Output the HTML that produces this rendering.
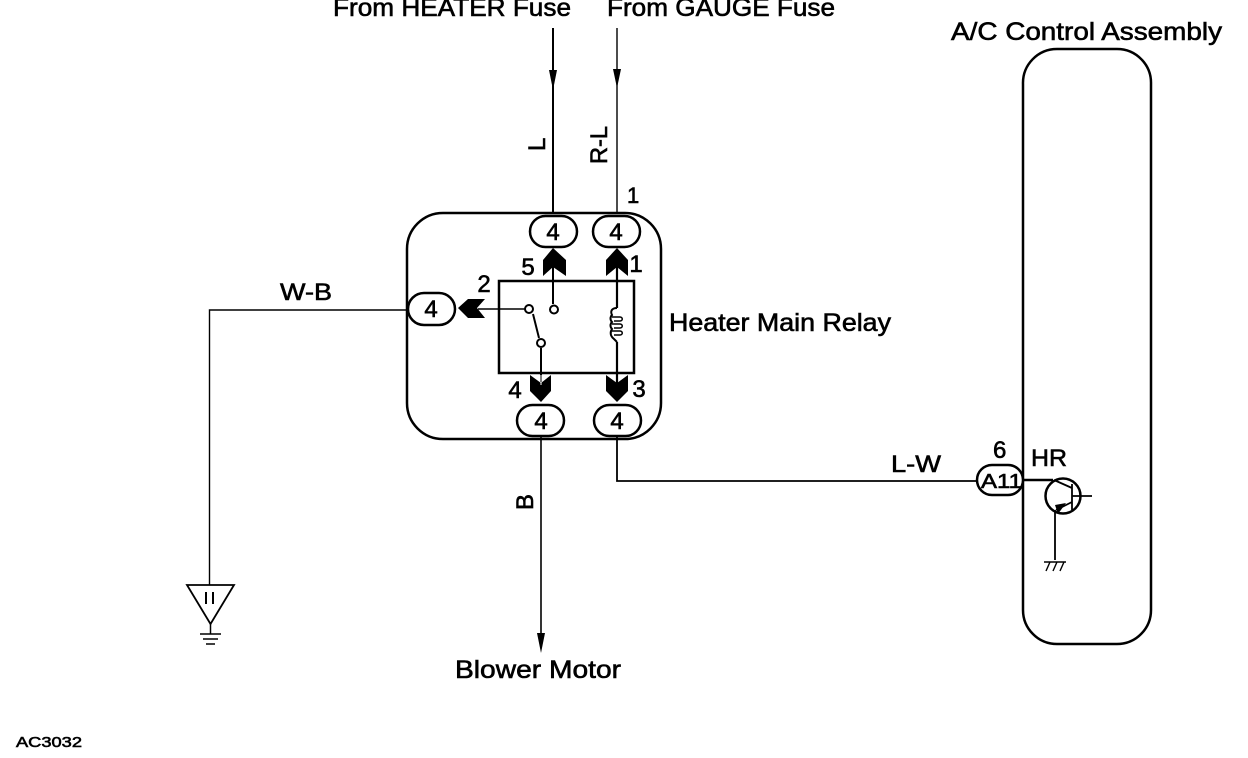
<!DOCTYPE html>
<html><head><meta charset="utf-8"><style>
html,body{margin:0;padding:0;background:#fff}
svg{display:block}
text{font-family:"Liberation Sans",sans-serif;fill:#000;stroke:#000;stroke-width:.6px}
</style></head><body>
<svg width="1248" height="758" viewBox="0 0 1248 758" xmlns="http://www.w3.org/2000/svg">
<g fill="none" stroke="#000" stroke-width="2">
<rect x="407" y="213" width="254" height="226" rx="36" ry="36" stroke-width="2.5"/>
<path d="M1023 84a34 34 0 0 1 34-35h60a34 34 0 0 1 34 35V610a34 34 0 0 1-34 34h-60a34 34 0 0 1-34-34Z" stroke-width="2.5"/>
<rect x="499" y="281" width="135" height="92" stroke-width="2.5"/>
<path d="M553 28V214" stroke-width="2"/>
<path d="M617 28V214" stroke-width="1.4"/>
<path d="M209.500 585V310H409" stroke-width="1.4"/>
<path d="M541 437V640" stroke-width="1.6"/>
<path d="M617 437V481H976" stroke-width="1.8"/>
<path d="M1023 480H1053" stroke-width="2.5"/>
<path d="M553 262V304" stroke-width="2"/>
<path d="M617 262V308M617 342V385" stroke-width="2.2"/>
<path d="M478 309H525" stroke-width="1.5"/>
<path d="M533 314L539 338" stroke-width="2"/>
<path d="M541 348V382" stroke-width="2"/>
<path d="M617 308c-5 0-7 3-5 7c-2 2-2 5 0 7c-2 2-2 5 0 7c-2 3-2 7 2 10l3 3" stroke-width="2"/>
<path d="M612 317h8c3 0 3 4 0 4h-6M612 324h8c3 0 3 4 0 4h-6M612 331h8c3 0 3 4 0 4h-6" stroke-width="1.500"/>
<circle cx="529" cy="309" r="4" fill="#fff"/>
<circle cx="554" cy="309.500" r="4" fill="#fff"/>
<circle cx="541" cy="343" r="4" fill="#fff"/>
<rect x="530" y="216" width="47" height="31" rx="15.500" fill="#fff" stroke-width="2.500"/>
<rect x="593" y="216" width="47" height="31" rx="15.500" fill="#fff" stroke-width="2.500"/>
<rect x="517" y="405" width="47" height="31" rx="15.500" fill="#fff" stroke-width="2.500"/>
<rect x="594" y="405" width="47" height="31" rx="15.500" fill="#fff" stroke-width="2.500"/>
<rect x="408" y="293" width="47" height="32" rx="16" fill="#fff" stroke-width="2.500"/>
<rect x="977" y="465" width="46" height="30" rx="15" fill="#fff" stroke-width="2.500"/>
<circle cx="1063" cy="496" r="17.500" stroke-width="2.500"/>
<path d="M1054 480L1072 488M1072 484V510M1072 496H1092M1072 502L1056 510M1055 510V560" stroke-width="1.800"/>
<path d="M1044 562H1066M1046 571l4-9M1053 571l4-9M1060 571l4-9" stroke-width="1.400"/>
<path d="M187 585H234L210.500 624Z" stroke-width="1.800"/>
<path d="M210.500 624V634" stroke-width="1.500"/>
<path d="M200 634H221M203 639H218M206 644H215" stroke-width="1.500"/>
<path d="M206 592V604M213 592V604" stroke-width="2"/>
</g>
<g fill="#000" stroke="none">
<path d="M553 248L566 260V276L553 267L543 276V260Z"/>
<path d="M617 248L606 260V276L617 267L628 276V260Z"/>
<path d="M541 402L530 391V375L541 383L551 375V391Z"/>
<path d="M617 402L606 391V375L617 383L628 375V391Z"/>
<path d="M458 308L468 299H485L477 308L485 318H468Z"/>
<path d="M549 70H557L553 90Z"/>
<path d="M613 69H621L617 88Z"/>
<path d="M537 633H545L541 653Z"/>
<path d="M1055 505L1066 503L1058 514Z"/>
</g>
<path d="M541 375V385" stroke="#fff" stroke-width="1"/>
<g lengthAdjust="spacingAndGlyphs">
<text x="333" y="16" font-size="25" textLength="238" lengthAdjust="spacingAndGlyphs">From HEATER Fuse</text>
<text x="607" y="16" font-size="25" textLength="228" lengthAdjust="spacingAndGlyphs">From GAUGE Fuse</text>
<text x="951" y="40" font-size="25" textLength="271" lengthAdjust="spacingAndGlyphs">A/C Control Assembly</text>
<text x="669" y="331" font-size="25" textLength="222" lengthAdjust="spacingAndGlyphs">Heater Main Relay</text>
<text x="455" y="678" font-size="25" textLength="166" lengthAdjust="spacingAndGlyphs">Blower Motor</text>
<text x="16" y="747" font-size="15" textLength="66" lengthAdjust="spacingAndGlyphs">AC3032</text>
<text x="280" y="300" font-size="24" textLength="52" lengthAdjust="spacingAndGlyphs">W-B</text>
<text x="891" y="472" font-size="24" textLength="50" lengthAdjust="spacingAndGlyphs">L-W</text>
<text x="1031" y="466" font-size="24" textLength="36" lengthAdjust="spacingAndGlyphs">HR</text>
</g>
<text x="993" y="458" font-size="24">6</text>
<text x="627" y="203" font-size="22">1</text>
<text x="545" y="151" font-size="24" transform="rotate(-90 545 151)">L</text>
<text x="607" y="164" font-size="24" transform="rotate(-90 607 164)" textLength="38" lengthAdjust="spacingAndGlyphs">R-L</text>
<text x="533" y="510" font-size="24" transform="rotate(-90 533 510)">B</text>
<g font-size="24" text-anchor="middle">
<text x="553" y="240">4</text><text x="616" y="240">4</text>
<text x="541" y="429">4</text><text x="617" y="429">4</text>
<text x="431" y="317">4</text>
</g>
<g font-size="24" text-anchor="middle">
<text x="528" y="275">5</text>
<text x="636" y="272">1</text>
<text x="484" y="292">2</text>
<text x="515" y="398">4</text>
<text x="639" y="397">3</text>
</g>
<text x="981" y="488" font-size="20" textLength="41" lengthAdjust="spacingAndGlyphs">A11</text>
</svg>
</body></html>
